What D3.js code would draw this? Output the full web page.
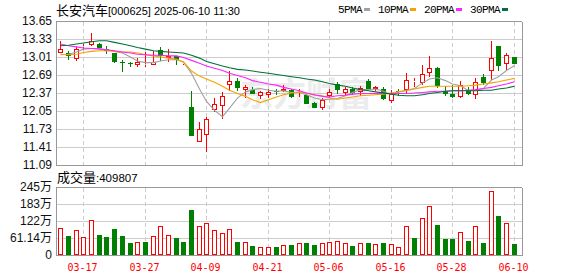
<!DOCTYPE html>
<html>
<head>
<meta charset="utf-8">
<script src="https://cdn.jsdelivr.net/npm/d3@7"></script>
<style>
  body { margin: 0; background: #fff; }
  svg { display: block; }
</style>
</head>
<body>
<div id="chart"></div>
<script>
// trading days shown (2025)
const dates = ["03-12","03-13","03-14","03-17","03-18","03-19","03-20","03-21","03-24","03-25",
  "03-26","03-27","03-28","03-31","04-01","04-02","04-03","04-07","04-08","04-09",
  "04-10","04-11","04-14","04-15","04-16","04-17","04-18","04-21","04-22","04-23",
  "04-24","04-25","04-28","04-29","04-30","05-06","05-07","05-08","05-09","05-12",
  "05-13","05-14","05-15","05-16","05-19","05-20","05-21","05-22","05-23","05-26",
  "05-27","05-28","05-29","05-30","06-03","06-04","06-05","06-06","06-09","06-10"];

const open = [13.09,13.08,12.98,13.19,13.22,13.25,13.15,13.08,12.93,12.90,
  12.86,12.86,12.86,13.13,13.00,13.02,12.88,12.12,11.49,11.62,
  12.07,12.13,12.51,12.59,12.42,12.43,12.32,12.33,12.40,12.41,
  12.42,12.37,12.33,12.20,12.10,12.31,12.53,12.37,12.45,12.39,
  12.59,12.45,12.45,12.22,12.40,12.42,12.56,12.55,12.72,12.82,
  12.41,12.36,12.30,12.43,12.33,12.65,12.77,13.21,12.88,13.01];
const high = [13.29,13.11,13.18,13.24,13.44,13.26,13.20,13.09,12.96,12.93,
  12.99,13.10,13.12,13.19,13.15,13.03,12.92,12.41,11.85,11.94,
  12.28,12.38,12.76,12.64,12.52,12.48,12.41,12.44,12.45,12.52,
  12.45,12.45,12.35,12.21,12.28,12.45,12.57,12.48,12.47,12.50,
  12.62,12.49,12.47,12.42,12.44,12.73,12.63,12.87,13.03,12.84,
  12.49,12.51,12.58,12.47,12.64,12.70,13.29,13.21,13.09,13.01];
const low = [13.08,12.95,12.94,13.14,13.20,13.16,13.07,12.91,12.74,12.83,
  12.83,12.83,12.86,12.94,12.93,12.87,12.87,11.60,11.49,11.32,
  12.04,11.91,12.40,12.40,12.29,12.36,12.27,12.29,12.34,12.38,
  12.28,12.30,12.17,12.10,12.07,12.28,12.36,12.33,12.33,12.32,
  12.43,12.40,12.25,12.20,12.31,12.37,12.48,12.51,12.66,12.46,
  12.32,12.29,12.29,12.34,12.26,12.52,12.61,12.77,12.78,12.88];
const close = [13.15,13.02,13.15,13.21,13.29,13.17,13.12,12.93,12.92,12.89,
  12.93,12.88,12.92,13.03,13.03,12.95,12.90,11.60,11.73,11.91,
  12.18,12.31,12.59,12.46,12.47,12.36,12.38,12.39,12.38,12.45,
  12.30,12.39,12.18,12.11,12.25,12.39,12.42,12.44,12.37,12.46,
  12.45,12.47,12.26,12.36,12.39,12.60,12.58,12.70,12.81,12.50,
  12.35,12.30,12.52,12.35,12.57,12.55,12.99,12.85,13.05,12.88];

// volume, 万手
const volume = [96,68,90,64,126,72,65,94,68,43,
  47,48,67,104,71,61,48,162,104,116,
  90,80,94,48,48,32,29,29,29,36,
  36,43,43,36,43,47,50,43,32,43,
  43,40,43,38,28,103,61,132,175,108,
  58,58,83,50,103,43,229,140,115,40.98];
const lastVolume = 409807;

const ma5 = [13.05,13.06,13.10,13.15,13.16,13.16,13.14,13.11,13.08,13.01,
  12.94,12.91,12.91,12.94,12.96,12.96,12.92,12.72,12.44,12.22,
  12.06,11.95,12.10,12.28,12.39,12.43,12.45,12.42,12.40,12.41,
  12.38,12.38,12.34,12.28,12.25,12.26,12.27,12.32,12.38,12.43,
  12.43,12.44,12.40,12.34,12.39,12.42,12.45,12.55,12.62,12.64,
  12.59,12.53,12.50,12.41,12.42,12.45,12.60,12.66,12.77,12.86];
const ma10 = [13.06,13.05,13.06,13.09,13.11,13.12,13.12,13.11,13.10,13.10,
  13.08,13.05,13.03,13.01,12.99,12.97,12.92,12.76,12.67,12.62,
  12.56,12.49,12.42,12.36,12.31,12.25,12.20,12.25,12.30,12.34,
  12.37,12.39,12.37,12.33,12.32,12.28,12.26,12.28,12.30,12.32,
  12.33,12.34,12.35,12.37,12.39,12.41,12.44,12.47,12.49,12.49,
  12.49,12.49,12.49,12.50,12.51,12.53,12.55,12.57,12.60,12.63];
const ma20 = [13.24,13.21,13.19,13.17,13.16,13.15,13.14,13.12,13.10,13.08,
  13.06,13.05,13.04,13.04,13.03,13.03,13.00,12.95,12.90,12.85,
  12.81,12.77,12.72,12.68,12.64,12.59,12.56,12.53,12.51,12.47,
  12.44,12.41,12.37,12.34,12.31,12.30,12.32,12.33,12.35,12.36,
  12.36,12.36,12.36,12.36,12.36,12.36,12.37,12.38,12.39,12.40,
  12.40,12.41,12.41,12.42,12.43,12.45,12.47,12.50,12.53,12.57];
const ma30 = [13.21,13.22,13.24,13.26,13.28,13.30,13.30,13.27,13.24,13.21,
  13.18,13.15,13.12,13.11,13.10,13.09,13.08,13.04,12.99,12.93,
  12.89,12.85,12.82,12.79,12.78,12.76,12.74,12.72,12.70,12.68,
  12.66,12.64,12.62,12.60,12.57,12.54,12.51,12.49,12.46,12.43,
  12.41,12.39,12.37,12.35,12.33,12.32,12.32,12.34,12.36,12.38,
  12.40,12.41,12.41,12.41,12.41,12.42,12.42,12.44,12.46,12.49];

const priceTicks = [11.09, 11.41, 11.73, 12.05, 12.37, 12.69, 13.01, 13.33, 13.65];
const volTicks = [0, 61.14, 122.28, 183.42, 244.56];
const volTickLabels = ["0", "61.14万", "122万", "183万", "245万"];
const dateTicks = ["03-17","03-27","04-09","04-21","05-06","05-16","05-28","06-10"];

const maNames = ["5PMA", "10PMA", "20PMA", "30PMA"];
const maSeries = [ma5, ma10, ma20, ma30];
const maColors = ["#a0a0a0", "#f5a300", "#ff22ff", "#00703c"];

const stockName = "长安汽车";
const stockCode = "[000625]";
const stamp = "2025-06-10 11:30";

(function kline(){
  const width = 578, height = 276;
  const left = 56, right = 522;
  const pTop = 21, pBottom = 165, vTop = 187, vBottom = 255;
  const up = "#ff0000", down = "#008000", grid = "#cccccc", border = "#999999";

  const svg = d3.select("#chart").append("svg")
      .attr("width", width)
      .attr("height", height)
      .attr("viewBox", [0, 0, width, height]);

  const x = d3.scaleBand()
      .domain(dates)
      .range([56.5, 517.6])
      .paddingInner(0.35)
      .paddingOuter(0.175);
  const cx = d => Math.round(x(d) + x.bandwidth() / 2) + 0.5;
  const y = d3.scaleLinear().domain([11.09, 13.65]).range([pBottom, pTop]);
  const yv = d3.scaleLinear().domain([0, 244.56]).range([vBottom, vTop]);
  const px = v => Math.round(v) + 0.5;

  // header
  const head = svg.append("text").attr("x", 56).attr("y", 15).attr("fill", "#000");
  head.append("tspan").attr("font-family", "'Noto Sans CJK SC'").attr("font-size", 13).text(stockName);
  head.append("tspan").attr("font-family", "'Liberation Sans'").attr("font-size", 11).text(stockCode + " " + stamp);

  // legend
  let lx = 338;
  maNames.forEach((name, k) => {
    const t = svg.append("text")
        .attr("x", lx).attr("y", 13)
        .attr("font-family", "'Liberation Mono'")
        .attr("font-size", 11)
        .attr("letter-spacing", -0.6)
        .attr("fill", "#000")
        .text(name);
    const w = t.node().getComputedTextLength();
    svg.append("rect")
        .attr("x", Math.round(lx + w + 2)).attr("y", 8)
        .attr("width", 6).attr("height", 3)
        .attr("fill", maColors[k]);
    lx += w + 16;
  });

  // watermark
  svg.append("text")
      .attr("x", 240).attr("y", 106)
      .attr("font-family", "'Noto Sans CJK SC'")
      .attr("font-weight", "bold")
      .attr("font-size", 33)
      .attr("fill", "#ececec")
      .text("东方财富");

  // horizontal grid + axis labels, price panel
  const pg = svg.append("g").attr("shape-rendering", "crispEdges");
  pg.selectAll("line")
    .data(priceTicks)
    .join("line")
      .attr("x1", left).attr("x2", right)
      .attr("y1", d => px(y(d))).attr("y2", d => px(y(d)))
      .attr("stroke", (d, i) => i === 0 || i === priceTicks.length - 1 ? border : grid);
  svg.append("g").selectAll("text")
    .data(priceTicks)
    .join("text")
      .attr("x", 52).attr("y", d => y(d) + 4)
      .attr("text-anchor", "end")
      .attr("font-family", "'Liberation Sans'")
      .attr("font-size", 12)
      .attr("fill", "#111")
      .text(d => d.toFixed(2));

  // volume panel grid + labels
  const vg = svg.append("g").attr("shape-rendering", "crispEdges");
  vg.selectAll("line")
    .data(volTicks)
    .join("line")
      .attr("x1", left).attr("x2", right)
      .attr("y1", d => px(yv(d))).attr("y2", d => px(yv(d)))
      .attr("stroke", (d, i) => i === 0 || i === volTicks.length - 1 ? border : grid);
  svg.append("g").selectAll("text")
    .data(volTicks)
    .join("text")
      .attr("x", 52).attr("y", d => yv(d) + 4)
      .attr("text-anchor", "end")
      .attr("font-family", "'Liberation Sans', 'Noto Sans CJK SC'")
      .attr("font-size", 12)
      .attr("fill", "#111")
      .text((d, i) => volTickLabels[i]);

  const vol = svg.append("text").attr("x", 57).attr("y", 182).attr("fill", "#000");
  vol.append("tspan").attr("font-family", "'Noto Sans CJK SC'").attr("font-size", 13).text("成交量");
  vol.append("tspan").attr("font-family", "'Liberation Sans'").attr("font-size", 11.5).text(":" + lastVolume);

  // vertical dashed grid
  const dg = svg.append("g").attr("shape-rendering", "crispEdges")
      .attr("stroke", grid).attr("stroke-dasharray", "4,3");
  for (const [a, b] of [[pTop + 1, pBottom], [vTop + 1, vBottom]]) {
    dg.append("g").selectAll("line")
      .data(dateTicks)
      .join("line")
        .attr("x1", d => cx(d)).attr("x2", d => cx(d))
        .attr("y1", a).attr("y2", b);
  }

  // side borders
  for (const [a, b] of [[pTop, pBottom], [vTop, vBottom]]) {
    svg.append("g").attr("shape-rendering", "crispEdges").selectAll("line")
      .data([left, right])
      .join("line")
        .attr("x1", d => px(d)).attr("x2", d => px(d))
        .attr("y1", px(a)).attr("y2", px(b))
        .attr("stroke", border);
  }

  // date labels
  svg.append("g").selectAll("text")
    .data(dateTicks)
    .join("text")
      .attr("x", d => cx(d) - 1).attr("y", 271)
      .attr("text-anchor", "middle")
      .attr("font-family", "'DejaVu Sans Mono'")
      .attr("font-size", 10)
      .attr("fill", "#ff0000")
      .text(d => d);

  // candles
  const I = d3.range(dates.length);
  const cg = svg.append("g").attr("shape-rendering", "crispEdges");
  for (const i of I) {
    const c = cx(dates[i]);
    const isUp = close[i] >= open[i];
    const col = isUp ? up : down;
    let top = Math.round(y(Math.max(open[i], close[i])));
    let bot = Math.round(y(Math.min(open[i], close[i])));
    if (bot - top < 1) bot = top + 1;
    const hi = Math.round(y(high[i])), lo = Math.round(y(low[i]));
    if (isUp) {
      if (hi < top) cg.append("line").attr("x1", c).attr("x2", c).attr("y1", hi).attr("y2", top).attr("stroke", col);
      if (lo > bot) cg.append("line").attr("x1", c).attr("x2", c).attr("y1", bot).attr("y2", lo).attr("stroke", col);
      cg.append("rect")
          .attr("x", c - 2).attr("y", top + 0.5)
          .attr("width", 4).attr("height", Math.max(bot - top - 1, 0))
          .attr("fill", "#fff").attr("stroke", col);
    } else {
      cg.append("line").attr("x1", c).attr("x2", c).attr("y1", hi).attr("y2", lo).attr("stroke", col);
      cg.append("rect")
          .attr("x", c - 2.5).attr("y", top)
          .attr("width", 5).attr("height", bot - top)
          .attr("fill", col);
    }
  }

  // volume bars, coloured against the previous close
  const bg = svg.append("g").attr("shape-rendering", "crispEdges");
  for (const i of I) {
    const c = cx(dates[i]);
    const rising = i === 0 ? close[i] >= open[i] : close[i] >= close[i - 1];
    const t = Math.round(yv(volume[i]));
    if (rising) {
      bg.append("rect")
          .attr("x", c - 2).attr("y", t + 0.5)
          .attr("width", 4).attr("height", vBottom - t - 1)
          .attr("fill", "#fff").attr("stroke", up);
    } else {
      bg.append("rect")
          .attr("x", c - 2.5).attr("y", t)
          .attr("width", 5).attr("height", vBottom - t)
          .attr("fill", down);
    }
  }

  // moving averages
  const line = d3.line()
      .x((d, i) => cx(dates[i]))
      .y(d => y(d));
  svg.append("g")
    .selectAll("path")
    .data(maSeries)
    .join("path")
      .attr("d", line)
      .attr("fill", "none")
      .attr("stroke", (d, k) => maColors[k])
      .attr("stroke-width", 1.1);
})();
</script>
</body>
</html>
